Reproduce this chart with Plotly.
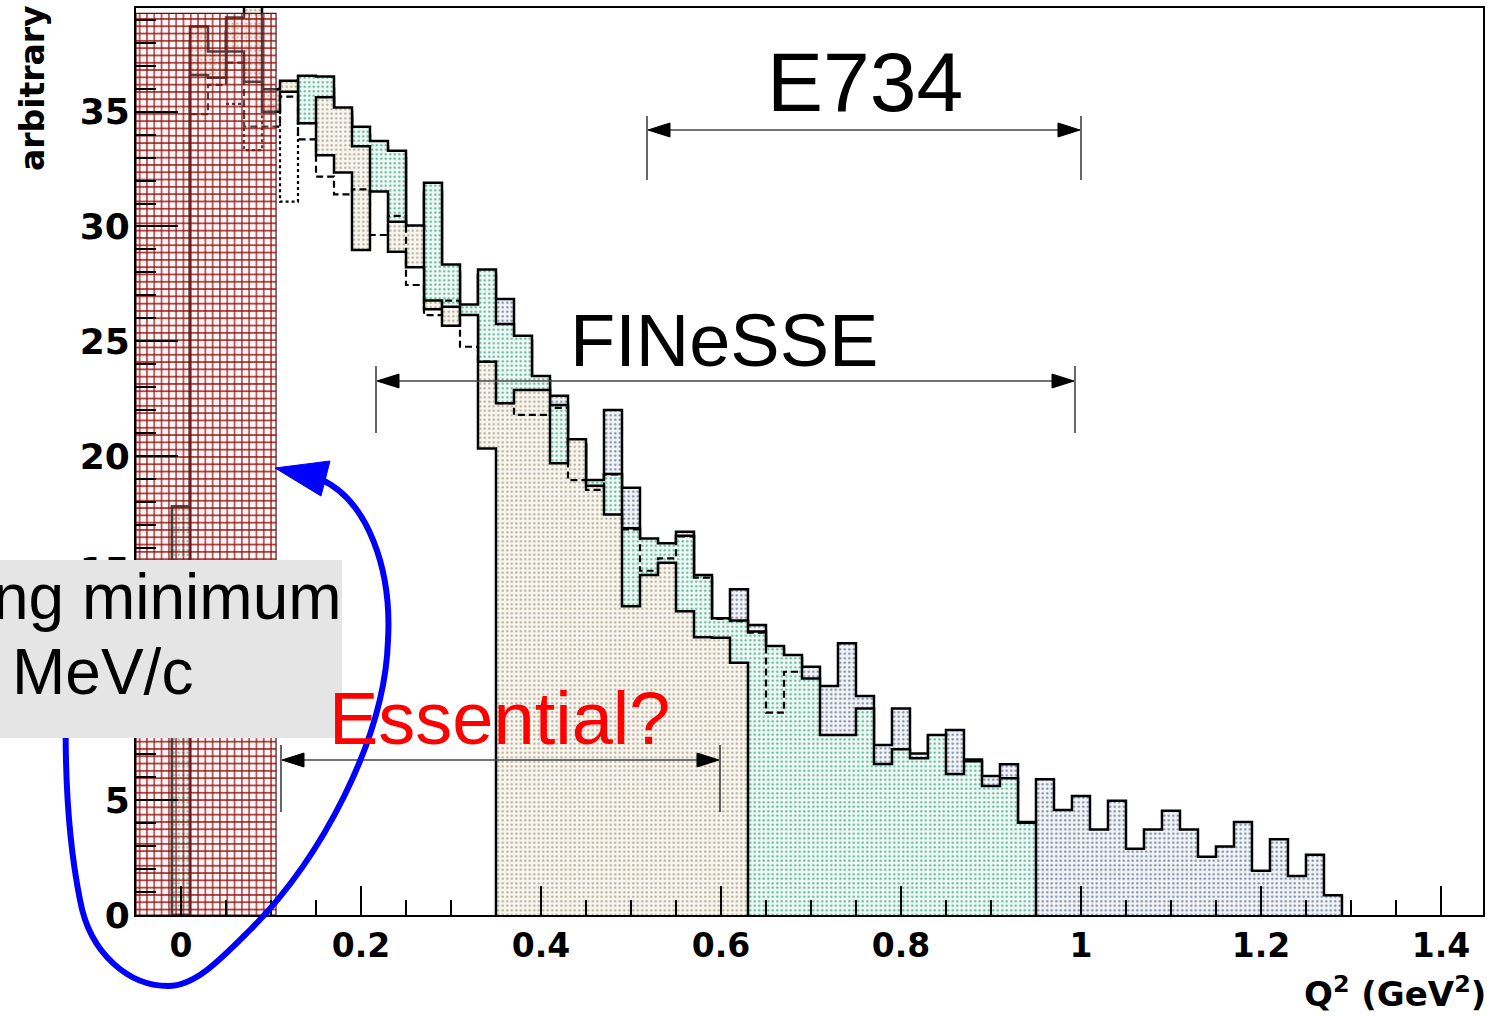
import numpy as np
import plotly.graph_objects as go

# ---------------- data ----------------
bin_width = 0.02
first_edge = -0.01          # low edge of the first bin (bin centres at 0, 0.02, ...)

# layer drawn first (blue-grey dotted), bins 0 .. 64
blue_vals = [17.8, 38.0, 37.0, 38.5, 39.0, 35.5, 36.0, 36.0, 36.0, 34.8,
             34.0, 33.5, 33.0, 29.8, 31.5, 28.0, 26.4, 27.9, 26.84, 25.0,
             23.3, 22.63, 20.5, 18.8, 22.0, 18.62, 16.3, 16.1, 16.7, 14.7,
             12.8, 14.19, 12.64, 11.6, 11.2, 10.82, 9.98, 11.84, 9.54, 7.41,
             9.0, 7.04, 7.8, 8.06, 6.78, 6.06, 6.57, 4.05, 5.91, 4.58,
             5.19, 3.73, 4.98, 2.89, 3.73, 4.54, 3.73, 2.54, 2.98, 4.05,
             1.93, 3.30, 1.70, 2.63, 0.86]
# green dotted layer, bins 0 .. 47
green_vals = [17.8, 38.0, 37.0, 38.5, 39.0, 35.5, 36.0, 36.57, 36.53, 35.0,
              34.35, 33.73, 33.3, 29.9, 31.91, 28.34, 26.6, 28.13, 25.75, 25.24,
              23.49, 22.22, 20.5, 18.95, 19.22, 16.85, 16.41, 16.2, 16.53, 14.81,
              12.93, 12.83, 12.35, 11.72, 11.33, 10.31, 7.84, 7.84, 9.0, 6.58,
              7.22, 6.83, 7.84, 6.14, 6.7, 5.62, 5.96, 4.02]
# beige dotted layer, bins 0 .. 31
beige_vals = [0.0, 38.71, 37.62, 39.11, 40.5, 35.98, 36.35, 34.4, 35.63, 35.18,
              33.5, 31.4, 30.21, 30.04, 26.77, 26.5, 26.0, 24.11, 22.3, 22.88,
              22.88, 19.68, 20.73, 18.7, 17.45, 13.45, 14.81, 15.35, 13.24, 12.1,
              12.08, 10.99]
# white layer, bins 0 .. 17
white_vals = [0.0, 36.6, 36.48, 37.62, 36.31, 35.0, 35.87, 34.5, 33.1, 32.35,
              28.98, 31.52, 28.9, 28.22, 26.39, 25.68, 26.14, 20.33]
# dashed outline, bins 1 .. 34
dashed_start = 1
dashed_vals = [34.89, 36.17, 37.14, 34.35, 34.35, 35.66, 33.8, 32.17, 31.4, 31.62,
               29.63, 30.46, 27.45, 26.14, 26.77, 24.76, 24.11, 22.3, 21.79, 21.79,
               22.1, 18.95, 18.52, 19.2, 16.8, 15.0, 15.54, 16.5, 14.7, 12.9,
               12.8, 12.3, 8.82, 10.6]
# dotted outline, bins 3 .. 7
dotted_start = 3
dotted_vals = [35.34, 33.33, 35.0, 31.08, 34.5]

hatch_q = [-0.05, 0.1056]     # red hatched band (Q^2 range)
hatch_top = 39.29

x_range = [-0.05, 1.4467]
y_range = [0, 39.52]

# ---------------- geometry helpers ----------------
W_PX, H_PX = 1487, 1016
ML, MR, MT, MB = 136, 4, 8, 101
PW = W_PX - ML - MR
PH = H_PX - MT - MB


def px(x):
    return (x - ML) / PW


def py(y):
    return (H_PX - MB - y) / PH


def step_xy(vals, start_bin, close=True):
    edges = first_edge + bin_width * np.arange(start_bin, start_bin + len(vals) + 1)
    xs = [float(e) for e in edges]
    ys = list(vals) + [vals[-1]]
    if close:
        xs = [xs[0]] + xs + [xs[-1]]
        ys = [0.0] + ys + [0.0]
    return xs, ys


FONT = "Liberation Sans, Arial, sans-serif"
BOLD = "DejaVu Sans, Verdana, sans-serif"

fig = go.Figure()


def add_hist(vals, fg, bg, pattern=True):
    xs, ys = step_xy(vals, 0)
    kw = dict(fill='tozeroy', fillcolor=bg)
    if pattern:
        kw['fillpattern'] = dict(shape='.', fgcolor=fg, bgcolor=bg, size=4.5, solidity=0.2)
    fig.add_trace(go.Scatter(x=xs, y=ys, mode='lines',
                             line=dict(color='black', width=2.5, shape='hv'),
                             showlegend=False, hoverinfo='skip', **kw))


add_hist(blue_vals, '#7484a0', '#f1f3f6')
add_hist(green_vals, '#52b494', '#f0f8f5')
add_hist(beige_vals, '#b3a88f', '#f8f6f1')
add_hist(white_vals, 'white', 'white', pattern=False)

xs, ys = step_xy(dashed_vals, dashed_start, close=False)
fig.add_trace(go.Scatter(x=xs, y=ys, mode='lines',
                         line=dict(color='black', width=2.2, shape='hv', dash='7px,4px'),
                         showlegend=False, hoverinfo='skip'))
xs, ys = step_xy(dotted_vals, dotted_start, close=False)
fig.add_trace(go.Scatter(x=xs, y=ys, mode='lines',
                         line=dict(color='black', width=2.2, shape='hv', dash='dot'),
                         showlegend=False, hoverinfo='skip'))

# red hatched band
fig.add_trace(go.Scatter(
    x=[hatch_q[0], hatch_q[1], hatch_q[1], hatch_q[0], hatch_q[0]],
    y=[0, 0, hatch_top, hatch_top, 0],
    mode='lines', fill='toself', fillcolor='rgba(255,225,225,0.3)',
    fillpattern=dict(shape='+', fgcolor='#8b0000', fgopacity=0.95,
                     bgcolor='rgba(255,225,225,0.3)', size=7.3, solidity=0.3),
    line=dict(color='#5a1010', width=1.2), showlegend=False, hoverinfo='skip'))

# ---------------- shapes ----------------
shapes = []


def path_from(points, closed=False):
    cmds = []
    for p in points:
        if isinstance(p, str):
            cmds.append(p)
        else:
            cmds.append(f"{px(p[0]):.5f},{py(p[1]):.5f}")
    s = ' '.join(cmds)
    return s + (' Z' if closed else '')


def add_line(x0, y0, x1, y1, color='black', width=1.2):
    shapes.append(dict(type='line', xref='paper', yref='paper', layer='above',
                       x0=px(x0), y0=py(y0), x1=px(x1), y1=py(y1),
                       line=dict(color=color, width=width)))


def add_tri(p1, p2, p3, color='black'):
    shapes.append(dict(type='path', xref='paper', yref='paper', layer='above',
                       path=path_from(['M', p1, 'L', p2, 'L', p3], closed=True),
                       fillcolor=color, line=dict(color=color, width=1)))


def add_range_arrow(xa, xb, y, ytop, ybot):
    add_line(xa + 2, y, xb - 2, y, color='#444444', width=1.6)
    add_line(xa, ytop, xa, ybot)
    add_line(xb, ytop, xb, ybot)
    add_tri((xa + 1, y), (xa + 23, y - 7), (xa + 23, y + 7))
    add_tri((xb - 1, y), (xb - 23, y - 7), (xb - 23, y + 7))


add_range_arrow(647, 1081, 130, 116, 180)
add_range_arrow(376, 1075, 381, 366, 433)
add_range_arrow(281, 720, 760, 745, 812)

# blue loop arrow
blue_path = path_from(['M', (320, 479),
                       'C', (368, 500), (392, 570), (388, 640),
                       'C', (385, 740), (320, 860), (250, 930),
                       'C', (220, 960), (195, 986), (168, 986),
                       'C', (130, 986), (90, 955), (80, 900),
                       'C', (70, 850), (64, 790), (66, 700)])
shapes.append(dict(type='path', xref='paper', yref='paper', layer='above',
                   path=blue_path, line=dict(color='#0000ff', width=6)))
add_tri((275, 468), (330, 461), (321, 496), color='#0000ff')

# grey text box
shapes.append(dict(type='rect', xref='paper', yref='paper', layer='above',
                   x0=px(-5), x1=px(342), y0=py(738), y1=py(560),
                   fillcolor='#e5e5e5', line=dict(width=0)))

# ---------------- annotations ----------------
ann = []


def add_text(text, x, y, size, color='black', xanchor='center', family=FONT,
             weight='normal', angle=0):
    ann.append(dict(text=text, x=px(x), y=py(y), xref='paper', yref='paper',
                    showarrow=False, xanchor=xanchor, yanchor='middle',
                    textangle=angle,
                    font=dict(family=family, size=size, color=color, weight=weight)))


add_text('E734', 865, 82, 84)
add_text('FINeSSE', 724, 340, 74)
add_text('Essential?', 499, 718, 74, color='#ff0000')
add_text('ng minimum', 344, 597, 64, xanchor='right')
add_text('MeV/c', 10, 672, 64, xanchor='left')
add_text('arbitrary', 33, 88, 33, family=BOLD, weight='bold', angle=-90)
add_text('Q<sup>2</sup> (GeV<sup>2</sup>)', 1488, 992, 34, xanchor='right',
         family=BOLD, weight='bold')

fig.update_layout(
    template='none',
    width=W_PX, height=H_PX,
    margin=dict(l=ML, r=MR, t=MT, b=MB, pad=0),
    paper_bgcolor='white', plot_bgcolor='white',
    showlegend=False,
    shapes=shapes, annotations=ann,
    xaxis=dict(range=x_range, showgrid=False, zeroline=False, automargin=False,
               showline=True, mirror=True, linecolor='black', linewidth=2,
               ticks='inside', ticklen=29, tickwidth=2, tickcolor='black',
               tick0=0, dtick=0.2, ticklabelstandoff=0,
               tickfont=dict(family=BOLD, size=33, color='black', weight='bold'),
               minor=dict(ticks='inside', ticklen=15, tickwidth=2, tickcolor='black',
                          dtick=0.05, showgrid=False)),
    yaxis=dict(range=y_range, showgrid=False, zeroline=False, automargin=False,
               showline=True, mirror=True, linecolor='black', linewidth=2,
               ticks='inside', ticklen=42, tickwidth=2, tickcolor='black',
               tick0=0, dtick=5, ticklabelstandoff=-3,
               tickfont=dict(family=BOLD, size=36, color='black', weight='bold'),
               minor=dict(ticks='inside', ticklen=20, tickwidth=2, tickcolor='black',
                          dtick=1, showgrid=False)),
)

fig.write_html("out.html", config={'displayModeBar': False},
               post_script="document.body.style.margin='0px';")
